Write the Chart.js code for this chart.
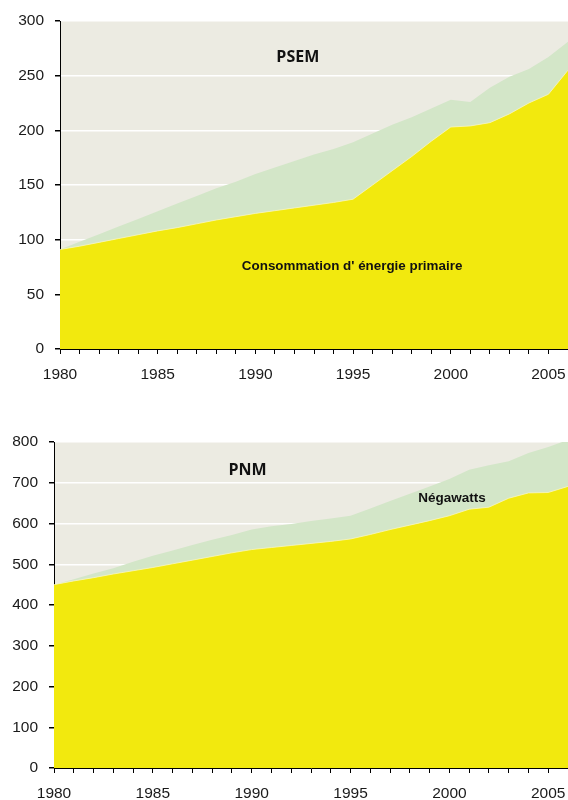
<!DOCTYPE html>
<html>
<head>
<meta charset="utf-8">
<script src="https://cdn.jsdelivr.net/npm/chart.js@4.4.0/dist/chart.umd.min.js"></script>
<style>
  html, body { margin: 0; padding: 0; background: #fff; overflow: hidden; }
  #wrap { position: relative; width: 568px; height: 800px; }
  .box { position: absolute; left: 0; width: 568px; }
  #topBox { top: 0; height: 390px; }
  #botBox { top: 400px; height: 400px; }
</style>
</head>
<body>
<div id="wrap">
  <div class="box" id="topBox"><canvas id="chartTop"></canvas></div>
  <div class="box" id="botBox"><canvas id="chartBot"></canvas></div>
</div>
<script>
// ===== data =====
const years = [1980,1981,1982,1983,1984,1985,1986,1987,1988,1989,1990,1991,1992,1993,1994,1995,1996,1997,1998,1999,2000,2001,2002,2003,2004,2005,2006];

// top chart (PSEM)
const conso1 = [91,94,97.5,101,104.5,108,111,114.5,118,121,124,126.5,129,131.5,134,137,150,163,176,190,203,204,207,215,225,233,255];
const psem   = [91,98,105,112,119,126,133,140,147,153,160,166,172,178,183,189,197,205,212,220,228,226,239,249,256,267,281];

// bottom chart (PNM)
const conso2 = [450,459,467,476,484,492,501,510,519,528,536,541,546,551,556,562,573,585,596,607,619,635,640,662,675,676,691];
const pnm    = [450,463,477,490,506,521,534,547,560,572,585,593,599,606,612,619,637,655,673,691,709,732,743,753,773,788,805];

const yTicksTop = [0,50,100,150,200,250,300];
const yTicksBot = [0,100,200,300,400,500,600,700,800];

// colours
const YELLOW = "rgb(242,233,14)";
const GREEN = "rgb(211,230,200)";
const BG = "rgb(236,235,226)";
const INK = "#1a1a1a";

// plot background
const bgPlugin = {
  id: "bg",
  beforeDraw(chart){
    const a = chart.chartArea, c = chart.ctx;
    c.save(); c.fillStyle = BG; c.fillRect(a.left, a.top, a.right-a.left, a.bottom-a.top); c.restore();
  }
};

// free text labels placed in data coordinates: [text, xIndex, yValue, font]
const notesPlugin = {
  id: "notes",
  afterDatasetsDraw(chart, args, opts){
    const c = chart.ctx, xs = chart.scales.x, ys = chart.scales.y;
    c.save();
    c.fillStyle = "#111"; c.textAlign = "center"; c.textBaseline = "middle";
    (opts.items||[]).forEach(([t,xi,yv,font])=>{
      c.font = font;
      c.fillText(t, xs.getPixelForValue(xi), ys.getPixelForValue(yv));
    });
    c.restore();
  }
};

function mkChart(id, lower, upper, yTicks, ymax, leftW, padTop, xH, notes){
  return new Chart(document.getElementById(id), {
    type: "line",
    data: {
      labels: years,
      datasets: [
        {data: lower, backgroundColor: YELLOW, borderColor: "rgba(250,248,200,0.7)", borderWidth: 1, fill: "origin", pointRadius: 0, tension: 0},
        {data: upper, backgroundColor: GREEN, borderWidth: 0, fill: "-1", pointRadius: 0, tension: 0}
      ]
    },
    options: {
      responsive: true, maintainAspectRatio: false, animation: false,
      layout: {padding: {top: padTop, right: 0, left: 0, bottom: 0}},
      plugins: {legend: {display: false}, tooltip: {enabled: false}, notes: {items: notes}},
      scales: {
        x: {
          offset: false,
          afterFit(s){ s.height = xH; s.paddingLeft = 0; s.paddingRight = 0; },
          grid: {drawOnChartArea: false, tickLength: 5, tickColor: "#000"},
          border: {color: "#000", width: 1},
          ticks: {autoSkip: false, maxRotation: 0, padding: 11, color: INK,
            font: {family: "'Liberation Sans', Arial, sans-serif", size: 15.5},
            callback: (v,i)=> years[i] % 5 === 0 ? String(years[i]) : ""}
        },
        y: {
          min: 0, max: ymax,
          afterFit(s){ s.width = leftW; },
          afterBuildTicks(s){ s.ticks = yTicks.map(v=>({value:v})); },
          grid: {color: "#fff", lineWidth: 1.5, tickLength: 5, tickColor: "#000"},
          border: {color: "#000", width: 1},
          ticks: {padding: 11, color: INK, font: {family: "'Liberation Sans', Arial, sans-serif", size: 15.5}}
        }
      }
    },
    plugins: [bgPlugin, notesPlugin]
  });
}

mkChart("chartTop", conso1, psem, yTicksTop, 300, 60, 21, 41, [
  ["PSEM", 12.17, 266.6, "bold 16px 'Open Sans', sans-serif"],
  ["Consommation d' énergie primaire", 14.95, 75.5, "bold 13.4px 'Liberation Sans', Arial, sans-serif"]
]);
mkChart("chartBot", conso2, pnm, yTicksBot, 800, 54, 42, 32, [
  ["PNM", 9.79, 729.6, "bold 16px 'Open Sans', sans-serif"],
  ["Négawatts", 20.13, 662, "bold 13.5px 'Liberation Sans', Arial, sans-serif"]
]);
</script>
</body>
</html>
